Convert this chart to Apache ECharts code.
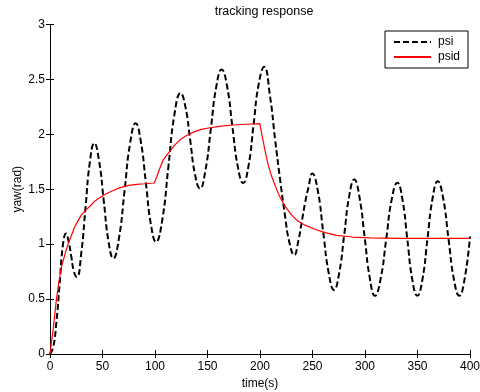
<!DOCTYPE html>
<html>
<head>
<meta charset="utf-8">
<script src="https://cdn.jsdelivr.net/npm/echarts@6/dist/echarts.min.js"></script>
<style>html,body{margin:0;padding:0;background:#fff;}#c{width:480px;height:392px;}</style>
</head>
<body>
<div id="c"></div>
<script>
var titleText = 'tracking response';
var xName = 'time(s)';
var yName = 'yaw(rad)';
var seriesNames = ['psi', 'psid'];

var psiTime = [0, 3, 6, 9.2, 12.4, 15.3, 17.8, 20.3, 22.8, 25.6, 29.8, 33.8, 38, 42.2, 46.7, 51.2, 55.8, 60.3, 65.6, 71, 76.3, 81.6, 86.4, 91.3, 96.1, 101, 106.9, 112.7, 118.5, 124.4, 129, 133.6, 138.2, 142.9, 148, 153.2, 158.3, 163.5, 168.6, 173.7, 178.8, 184, 189, 193.9, 198.8, 204, 209.5, 214.3, 219, 223.8, 227.9, 232.6, 236.5, 239.7, 243, 246, 249.8, 255, 260.2, 265.4, 270.5, 275.3, 280.2, 285, 289.8, 294.7, 299.7, 304.6, 309.5, 314.8, 320.2, 325.5, 330.8, 335.6, 340.3, 345, 349.8, 354.7, 359.5, 364.4, 369.2, 374.4, 379.5, 384.7, 389.8, 394.8, 400];
var psiValue = [0, 0.06, 0.28, 0.64, 1.0, 1.097, 1.02, 0.885, 0.75, 0.70, 0.92, 1.33, 1.75, 1.92, 1.76, 1.395, 1.02, 0.87, 1.05, 1.485, 1.92, 2.10, 1.94, 1.56, 1.18, 1.02, 1.22, 1.70, 2.18, 2.376, 2.25, 1.94, 1.63, 1.506, 1.67, 2.05, 2.43, 2.59, 2.44, 2.07, 1.71, 1.557, 1.71, 2.09, 2.46, 2.615, 2.35, 1.96, 1.60, 1.26, 1.02, 0.90, 1.03, 1.20, 1.38, 1.51, 1.643, 1.49, 1.11, 0.74, 0.582, 0.73, 1.085, 1.44, 1.588, 1.43, 1.06, 0.69, 0.53, 0.68, 1.045, 1.41, 1.56, 1.41, 1.045, 0.68, 0.53, 0.68, 1.05, 1.42, 1.573, 1.42, 1.05, 0.68, 0.53, 0.68, 1.07];

var psidTime = [0, 1.5, 3, 6, 8.5, 10.8, 14, 17.1, 20, 23.5, 26.5, 29.8, 34, 38, 42.5, 47, 51, 58, 66.7, 75, 82.5, 90, 99.3, 101.5, 104.8, 108, 113.7, 118.5, 123.8, 130, 136.5, 144, 152.4, 163, 174.6, 187, 199.8, 201.5, 203.2, 205.5, 207.9, 211, 214.3, 217.5, 220.6, 225, 230.2, 236, 242.9, 252.4, 262, 273, 288, 304.8, 330, 360, 400];
var psidValue = [0, 0.12, 0.22, 0.49, 0.66, 0.79, 0.9, 1.0, 1.07, 1.157, 1.21, 1.264, 1.31, 1.345, 1.39, 1.42, 1.445, 1.48, 1.515, 1.535, 1.545, 1.55, 1.557, 1.61, 1.695, 1.77, 1.84, 1.9, 1.95, 1.99, 2.02, 2.045, 2.06, 2.075, 2.085, 2.092, 2.097, 2.01, 1.93, 1.82, 1.72, 1.62, 1.536, 1.46, 1.40, 1.33, 1.264, 1.21, 1.173, 1.136, 1.105, 1.08, 1.065, 1.057, 1.053, 1.052, 1.052];

function zip(a, b) { return a.map(function (v, i) { return [v, b[i]]; }); }

var FONT = 'Liberation Sans, Arial, sans-serif';
var chart = echarts.init(document.getElementById('c'), null, {renderer: 'canvas'});
var axisCommon = {
  axisLine: {show: true, lineStyle: {color: '#000', width: 1}},
  axisTick: {show: true, inside: true, length: 4, lineStyle: {color: '#000'}},
  splitLine: {show: false}
};
chart.setOption({
  animation: false,
  backgroundColor: '#fff',
  title: {text: titleText, left: 259, top: 0, textAlign: 'center',
    textStyle: {fontFamily: FONT, fontSize: 12.5, fontWeight: 'normal', color: '#000'}},
  grid: {left: 50, right: 10, top: 24.5, bottom: 38, containLabel: false, outerBoundsMode: 'none'},
  legend: {
    data: seriesNames, orient: 'vertical', left: 385, top: 31,
    padding: [5, 8, 5, 8], itemWidth: 37, itemHeight: 14, itemGap: 3,
    borderColor: '#000', borderWidth: 1, backgroundColor: '#fff',
    itemStyle: {color: 'rgba(0,0,0,0)', borderWidth: 0, opacity: 0},
    textStyle: {fontFamily: FONT, fontSize: 12, color: '#000', padding: [0, 0, 0, 2]}
  },
  xAxis: [
    Object.assign({type: 'value', min: 0, max: 400, interval: 50, position: 'bottom',
      name: xName, nameLocation: 'middle', nameGap: 24, nameMoveOverlap: false,
      nameTextStyle: {fontFamily: FONT, fontSize: 12, color: '#000'},
      axisLabel: {fontFamily: FONT, fontSize: 12, color: '#000', margin: 7}}, axisCommon),
    Object.assign({type: 'value', min: 0, max: 400, interval: 50, position: 'top',
      axisLabel: {show: false}}, axisCommon)
  ],
  yAxis: [
    Object.assign({type: 'value', min: 0, max: 3, interval: 0.5, position: 'left',
      name: yName, nameLocation: 'middle', nameGap: 26, nameRotate: 90, nameMoveOverlap: false,
      nameTextStyle: {fontFamily: FONT, fontSize: 12, color: '#000'},
      axisLabel: {fontFamily: FONT, fontSize: 12, color: '#000', margin: 5}}, axisCommon),
    Object.assign({type: 'value', min: 0, max: 3, interval: 0.5, position: 'right',
      axisLabel: {show: false}}, axisCommon)
  ],
  series: [
    {name: seriesNames[0], type: 'line', data: zip(psiTime, psiValue), showSymbol: false, symbol: 'none',
      smooth: 0.5, color: '#000', lineStyle: {color: '#000', width: 2, type: [6, 3]}, z: 3},
    {name: seriesNames[1], type: 'line', data: zip(psidTime, psidValue), showSymbol: false, symbol: 'none',
      smooth: false, color: '#ff0000', lineStyle: {color: '#ff0000', width: 1.2}, z: 4}
  ]
});
</script>
</body>
</html>
